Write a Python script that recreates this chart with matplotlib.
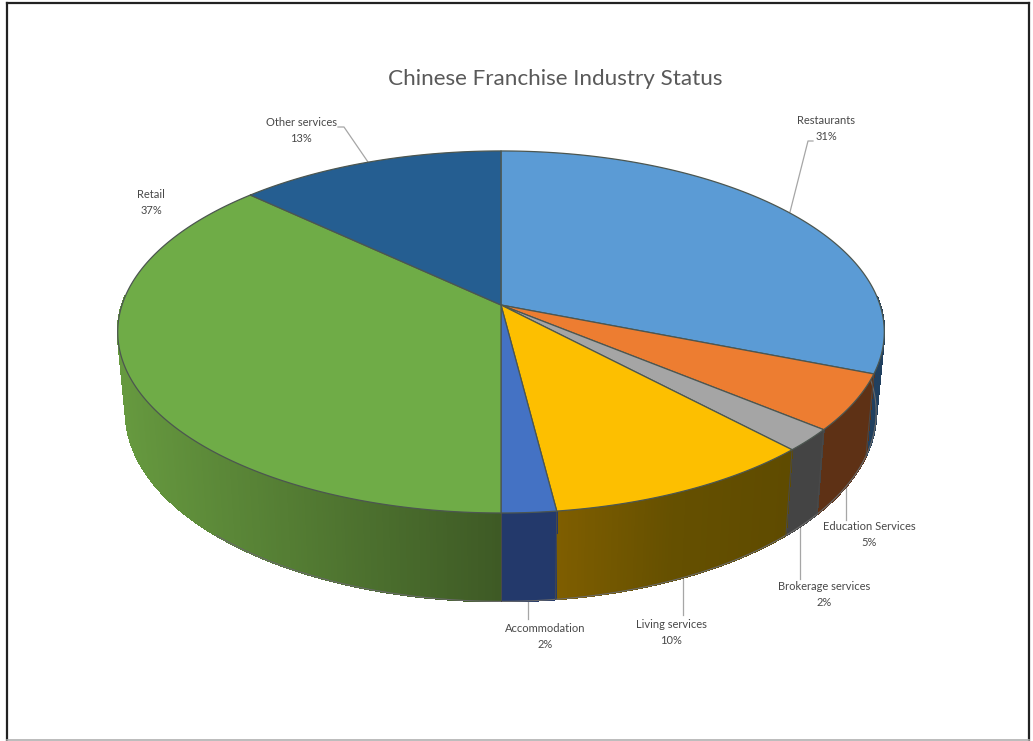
import numpy as np
import matplotlib
matplotlib.use("Agg")
import matplotlib.pyplot as plt
from matplotlib.colors import LinearSegmentedColormap

plt.rcParams["font.family"] = ["Lato", "DejaVu Sans"]

categories = ["Restaurants", "Education Services", "Brokerage services", "Living services",
              "Accommodation", "Retail", "Other services"]
shares = [31, 5, 2, 10, 2, 37, 13]

top_colors = ["#5b9bd5", "#ed7d31", "#a5a5a5", "#fdbf00", "#4472c4", "#6fac47", "#255e91"]
# side wall shading, colours run from left to right
side_colors = [("#21405f", "#21405f"), ("#5e3115", "#5e3115"), ("#444444", "#444444"),
               ("#7f5e00", "#655000", "#5f4b00"), ("#23396b", "#23396b"),
               ("#66993f", "#3e5a25"), ("#1d3a57", "#1d3a57")]

label_xy = [(826, 121), (869, 527), (824, 586), (671, 624), (545, 628), (151, 195), (301, 123)]
leaders = [[(790, 212), (808, 141), (813, 141)],
           [(846, 487), (846, 520)],
           [(800, 525), (800, 579)],
           [(683, 578), (683, 615)],
           [(528, 600), (528, 619)],
           [],
           [(368, 162), (344, 127), (338, 127)]]

CX = 501
PERSP = 0.149
TOP = dict(y0=305, rx=379, ry=177)
BOTTOM = dict(y0=384, rx=371, ry=185)


def rim(frac, y0, rx, ry):
    """Point on a tilted disc, frac runs clockwise from twelve o'clock."""
    a = 2 * np.pi * np.asarray(frac)
    u, v = np.sin(a), np.cos(a)
    w = 1 + PERSP * v
    return CX + rx * u / w, y0 - ry * v / w


fig = plt.figure(figsize=(10.33, 7.41), dpi=100)
ax = fig.add_axes([0, 0, 1, 1])
ax.set_xlim(0, 1033)
ax.set_ylim(741, 0)
ax.axis("off")

# page border
ax.plot([6.5, 6.5], [741, 3], color="#222222", lw=1.6, zorder=1)
ax.plot([6.5, 1029], [3, 3], color="#222222", lw=1.6, zorder=1)
ax.plot([1029, 1029], [3, 741], color="#222222", lw=1.6, zorder=1)
ax.plot([6.5, 1029], [740, 740], color="#b0b0b0", lw=1.2, zorder=1)

edges = np.cumsum([0] + shares) / sum(shares)
EDGE = "#4c5650"

# side wall, thin strips without antialiasing so no seams show between them
for i, name in enumerate(categories):
    cmap = LinearSegmentedColormap.from_list(name, side_colors[i])
    steps = max(int(shares[i] * 8), 4)
    f = np.linspace(edges[i], edges[i + 1], steps + 1)
    xt, yt = rim(f, **TOP)
    xb, yb = rim(f, **BOTTOM)
    for j in range(steps):
        # the back half of the wall sits behind the top face
        if np.cos(2 * np.pi * f[j]) > 0.05:
            continue
        t = (xt[j] - xt.min()) / (xt.max() - xt.min())
        ax.fill([xt[j], xt[j + 1], xb[j + 1], xb[j]], [yt[j], yt[j + 1], yb[j + 1], yb[j]],
                color=cmap(t), lw=0.8, antialiased=False, zorder=2)

# outlines of the wall
f = np.linspace(edges[1] - 0.12, edges[5] + 0.12, 300)
ax.plot(*rim(f, **BOTTOM), color="#6a6a6a", lw=0.8, zorder=3)
for e in edges[1:6]:
    xt, yt = rim(e, **TOP)
    xb, yb = rim(e, **BOTTOM)
    ax.plot([xt, xb], [yt, yb], color="#4a4a4a", lw=0.7, zorder=3)

# top face
for i in range(len(shares)):
    f = np.linspace(edges[i], edges[i + 1], 200)
    x, y = rim(f, **TOP)
    ax.fill(np.r_[CX, x], np.r_[TOP["y0"], y], facecolor=top_colors[i], edgecolor=EDGE,
            lw=0.9, joinstyle="round", zorder=4)

for pts in leaders:
    if pts:
        ax.plot(*zip(*pts), color="#a6a6a6", lw=0.9, zorder=1.5)

for name, val, (x, y) in zip(categories, shares, label_xy):
    ax.text(x, y, name, ha="center", va="center", fontsize=8, color="#484848")
    ax.text(x, y + 16, f"{val}%", ha="center", va="center", fontsize=8, color="#484848")

ax.text(555, 79, "Chinese Franchise Industry Status", ha="center", va="center",
        fontsize=16.2, color="#595959")

fig.savefig("out.png", dpi=100)
